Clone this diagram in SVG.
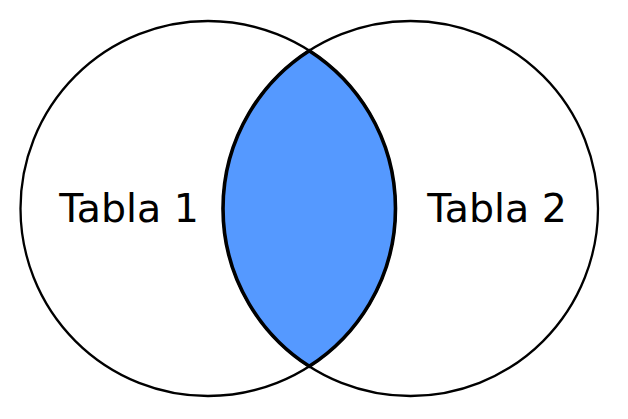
<svg xmlns="http://www.w3.org/2000/svg" width="628" height="419" viewBox="0 0 628 419">
<style>
.c{fill:none;stroke:#000;stroke-width:2.3}
.lens{fill:#5599ff;stroke:#000;stroke-width:3.6;stroke-linejoin:miter}
.t{font-family:"DejaVu Sans",sans-serif;font-size:39.5px;fill:#000;text-anchor:middle}
</style>
<rect width="628" height="419" fill="#fff"/>
<g id="table1">
<circle class="c" cx="208" cy="208.5" r="187.5"/>
<text class="t" x="129" y="222">Tabla 1</text>
</g>
<g id="table2">
<circle class="c" cx="410.5" cy="208.5" r="187.5"/>
<text class="t" x="497" y="222">Tabla 2</text>
</g>
<g id="intersection">
<path class="lens" d="M309.25,50.7 A187.5,187.5 0 0 1 309.25,366.3 A187.5,187.5 0 0 1 309.25,50.7 Z"/>
</g>
<g id="connectors"/>
</svg>
